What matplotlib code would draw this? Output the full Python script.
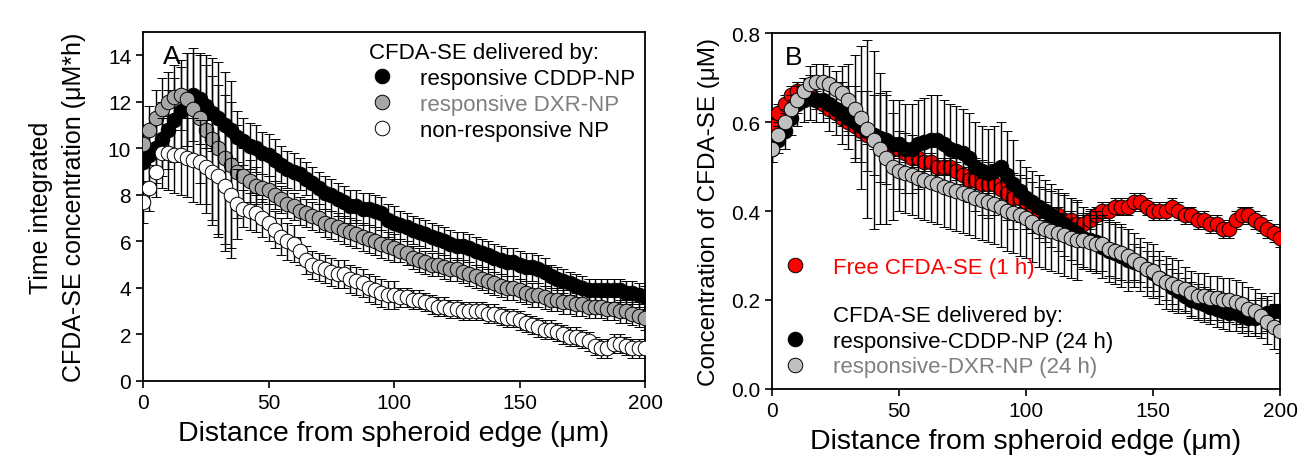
import numpy as np
import matplotlib
matplotlib.use("Agg")
import matplotlib.pyplot as plt
from matplotlib.lines import Line2D

plt.rcParams['font.family'] = ['Liberation Sans', 'DejaVu Sans']

# distance grid (um), shared by all series
dist = np.arange(0, 202.5, 2.5)

# ---- panel A: time integrated concentration (uM*h)
a_cddp = [9.4, 9.7, 10.0, 10.4, 10.8, 11.2, 11.6, 12.1, 12.3, 12.1, 11.8, 11.5, 11.3, 11.0, 10.8, 10.5,
          10.3, 10.1, 10.0, 9.8, 9.7, 9.5, 9.3, 9.1, 9.0, 8.9, 8.7, 8.5, 8.3, 8.1, 8.0, 7.8,
          7.7, 7.5, 7.5, 7.4, 7.4, 7.3, 7.2, 6.9, 6.8, 6.7, 6.6, 6.5, 6.4, 6.3, 6.2, 6.1,
          6.0, 5.9, 5.8, 5.8, 5.7, 5.6, 5.5, 5.4, 5.3, 5.2, 5.1, 5.1, 5.0, 4.9, 4.9, 4.8,
          4.7, 4.5, 4.4, 4.3, 4.2, 4.1, 4.0, 3.9, 3.9, 3.9, 3.9, 3.9, 3.9, 3.8, 3.8, 3.7, 3.6]
a_cddp_err = [1.2, 1.3, 1.5, 1.6, 1.7, 1.8, 1.9, 2.0, 2.0, 1.9, 1.8, 1.6, 1.4, 1.3, 1.2, 1.1,
              1.0, 1.0, 1.0, 0.9, 0.9, 0.9, 0.8, 0.8, 0.8] + [0.7] * 16 + [0.6] * 24 + [0.5] * 16

a_dxr = [10.2, 10.8, 11.3, 11.7, 12.0, 12.2, 12.3, 12.1, 11.7, 11.3, 10.8, 10.4, 10.0, 9.6, 9.3, 9.0,
         8.8, 8.6, 8.4, 8.3, 8.2, 8.0, 7.8, 7.6, 7.5, 7.3, 7.2, 7.1, 7.0, 6.8, 6.7, 6.6,
         6.5, 6.4, 6.3, 6.2, 6.1, 6.0, 5.9, 5.8, 5.7, 5.6, 5.5, 5.3, 5.2, 5.1, 5.0, 5.0,
         4.9, 4.8, 4.8, 4.7, 4.6, 4.5, 4.4, 4.3, 4.2, 4.1, 4.0, 4.0, 3.9, 3.8, 3.7, 3.7,
         3.6, 3.5, 3.5, 3.4, 3.4, 3.3, 3.3, 3.2, 3.2, 3.2, 3.1, 3.1, 3.0, 3.0, 2.9, 2.8, 2.7]
a_dxr_err = [0.8, 1.0, 1.2, 1.3, 1.3, 1.4, 1.5, 2.0, 2.4, 2.8, 3.2, 3.5, 3.7, 3.7, 3.6, 2.0,
             1.2, 0.9, 0.8] + [0.6] * 22 + [0.5] * 40

a_nonresp = [7.7, 8.3, 9.0, 9.8, 9.8, 9.7, 9.7, 9.6, 9.5, 9.4, 9.2, 9.0, 8.8, 8.4, 8.0, 7.6,
             7.4, 7.3, 7.2, 7.0, 6.8, 6.5, 6.2, 6.0, 5.9, 5.6, 5.2, 5.0, 4.9, 4.8, 4.7, 4.6,
             4.6, 4.4, 4.3, 4.2, 4.0, 3.9, 3.8, 3.7, 3.7, 3.6, 3.6, 3.5, 3.5, 3.4, 3.3, 3.2,
             3.2, 3.1, 3.1, 3.0, 3.0, 3.0, 3.0, 2.9, 2.9, 2.8, 2.7, 2.7, 2.6, 2.5, 2.4, 2.3,
             2.2, 2.2, 2.1, 2.0, 1.9, 1.9, 1.8, 1.7, 1.5, 1.4, 1.4, 1.6, 1.6, 1.5, 1.4, 1.4, 1.4]
a_nonresp_err = [0.9, 1.0, 1.1, 1.5, 1.6, 1.6, 1.7, 1.7, 1.8, 1.8, 2.0, 2.3, 2.6, 2.8, 2.7, 1.5] \
    + [0.8] * 9 + [0.6] * 16 + [0.4] * 40

# ---- panel B: concentration of CFDA-SE (uM)
b_free = [0.59, 0.62, 0.64, 0.66, 0.67, 0.67, 0.66, 0.65, 0.64, 0.63, 0.62, 0.61, 0.60, 0.59, 0.58, 0.57,
          0.56, 0.55, 0.55, 0.54, 0.54, 0.53, 0.52, 0.52, 0.51, 0.51, 0.50, 0.50, 0.50, 0.49, 0.48, 0.47,
          0.47, 0.46, 0.46, 0.46, 0.45, 0.44, 0.43, 0.43, 0.42, 0.41, 0.40, 0.40, 0.39, 0.39, 0.38, 0.38,
          0.37, 0.37, 0.38, 0.39, 0.40, 0.40, 0.41, 0.41, 0.41, 0.42, 0.42, 0.41, 0.40, 0.40, 0.40, 0.41,
          0.40, 0.39, 0.39, 0.38, 0.38, 0.37, 0.37, 0.36, 0.36, 0.38, 0.39, 0.39, 0.38, 0.37, 0.36, 0.35, 0.34]
b_free_err = [0.02] * 81

b_cddp = [0.54, 0.56, 0.58, 0.61, 0.64, 0.65, 0.655, 0.65, 0.65, 0.64, 0.63, 0.62, 0.61, 0.60, 0.59, 0.58,
          0.57, 0.565, 0.56, 0.55, 0.55, 0.54, 0.54, 0.55, 0.555, 0.56, 0.56, 0.55, 0.54, 0.535, 0.53, 0.52,
          0.50, 0.49, 0.485, 0.49, 0.50, 0.48, 0.46, 0.445, 0.43, 0.42, 0.41, 0.40, 0.39, 0.38, 0.37, 0.36,
          0.35, 0.34, 0.335, 0.33, 0.32, 0.31, 0.305, 0.30, 0.29, 0.285, 0.28, 0.27, 0.26, 0.25, 0.24, 0.23,
          0.22, 0.21, 0.20, 0.195, 0.19, 0.185, 0.18, 0.175, 0.17, 0.17, 0.165, 0.16, 0.16, 0.165, 0.17, 0.175, 0.175]
b_cddp_err = [0.03, 0.03, 0.04, 0.04, 0.05, 0.05, 0.05, 0.05, 0.05, 0.06, 0.06, 0.07, 0.07,
              0.08, 0.08, 0.09, 0.09, 0.10, 0.10, 0.10] + [0.10] * 19 + [0.07] * 18 + [0.04] * 24

b_dxr = [0.54, 0.57, 0.60, 0.63, 0.65, 0.67, 0.685, 0.69, 0.69, 0.685, 0.675, 0.665, 0.65, 0.63, 0.61, 0.585,
         0.56, 0.54, 0.52, 0.50, 0.49, 0.485, 0.48, 0.475, 0.47, 0.465, 0.46, 0.455, 0.45, 0.445, 0.44, 0.435,
         0.43, 0.425, 0.42, 0.415, 0.41, 0.40, 0.395, 0.39, 0.385, 0.375, 0.365, 0.36, 0.355, 0.35, 0.345, 0.34,
         0.335, 0.335, 0.33, 0.325, 0.325, 0.315, 0.31, 0.305, 0.30, 0.29, 0.28, 0.27, 0.265, 0.25, 0.24, 0.235,
         0.23, 0.225, 0.215, 0.21, 0.21, 0.205, 0.205, 0.20, 0.20, 0.195, 0.19, 0.18, 0.175, 0.165, 0.15, 0.14, 0.13]
b_dxr_err = [0.03] * 6 + [0.04] * 5 + [0.06, 0.08, 0.12, 0.16, 0.20, 0.20, 0.17, 0.15, 0.12] \
    + [0.09] * 29 + [0.06] * 16 + [0.05] * 16

fig = plt.figure(figsize=(13.11, 4.77), dpi=100)
ax_a = fig.add_axes([0.1091, 0.1992, 0.3829, 0.7317])
ax_b = fig.add_axes([0.5889, 0.1824, 0.3875, 0.7463])

msize = 10.5
mk = dict(marker='o', markersize=msize, markeredgecolor='black', markeredgewidth=0.7,
          linestyle='none', ecolor='black', elinewidth=1.0, capsize=3.5, capthick=1.0)

ax_a.errorbar(dist, a_cddp, yerr=a_cddp_err, markerfacecolor='black', zorder=3, **mk)
ax_a.errorbar(dist, a_dxr, yerr=a_dxr_err, markerfacecolor='#a6a6a6', zorder=4, **mk)
ax_a.errorbar(dist, a_nonresp, yerr=a_nonresp_err, markerfacecolor='white', zorder=5, **mk)

ax_b.errorbar(dist, b_free, yerr=b_free_err, markerfacecolor='#ff0000', zorder=3, **mk)
ax_b.errorbar(dist, b_cddp, yerr=b_cddp_err, markerfacecolor='black', zorder=4, **mk)
ax_b.errorbar(dist, b_dxr, yerr=b_dxr_err, markerfacecolor='#c0c0c0', zorder=5, **mk)

for ax in (ax_a, ax_b):
    ax.set_xlim(0, 200)
    ax.set_xticks([0, 50, 100, 150, 200])
    ax.tick_params(direction='out', length=5, width=1.2, labelsize=15, top=False, right=False)
    for s in ax.spines.values():
        s.set_linewidth(1.3)
    ax.set_xlabel('Distance from spheroid edge (\u03bcm)', fontsize=20.5, labelpad=6)

ax_a.set_ylim(0, 15)
ax_a.set_yticks(range(0, 15, 2))
ax_a.set_ylabel('Time integrated\nCFDA-SE concentration (\u03bcM*h)', fontsize=18,
                labelpad=16, linespacing=1.45)
ax_a.text(0.04, 0.965, 'A', transform=ax_a.transAxes, fontsize=19, va='top')

ax_b.set_ylim(0, 0.8)
ax_b.set_yticks([0, 0.2, 0.4, 0.6, 0.8])
ax_b.set_yticklabels(['0.0', '0.2', '0.4', '0.6', '0.8'])
ax_b.set_ylabel('Concentration of CFDA-SE (\u03bcM)', fontsize=17.5, labelpad=8)
ax_b.text(0.025, 0.965, 'B', transform=ax_b.transAxes, fontsize=19, va='top')


def dot(face):
    return Line2D([], [], marker='o', linestyle='none', markersize=msize,
                  markerfacecolor=face, markeredgecolor='black', markeredgewidth=0.7)


blank = Line2D([], [], linestyle='none')

leg_a = ax_a.legend([dot('black'), dot('#a6a6a6'), dot('white')],
                    ['responsive CDDP-NP', 'responsive DXR-NP', 'non-responsive NP'],
                    title='CFDA-SE delivered by:', loc='upper right', bbox_to_anchor=(1.0, 1.0),
                    frameon=False, fontsize=16, title_fontsize=16, handlelength=1.2,
                    handletextpad=1.1, labelspacing=0.22, alignment='left',
                    borderaxespad=0.15, borderpad=0.3)
leg_a.get_texts()[1].set_color('#7f7f7f')

leg_free = ax_b.legend([dot('#ff0000')], ['Free CFDA-SE (1 h)'], loc='lower left',
                       bbox_to_anchor=(0.0, 0.30), frameon=False, fontsize=16,
                       handlelength=1.68, handletextpad=0.87, borderaxespad=0.0, borderpad=0.2)
leg_free.get_texts()[0].set_color('#ff0000')
ax_b.add_artist(leg_free)

leg_b = ax_b.legend([blank, dot('black'), dot('#c0c0c0')],
                    ['CFDA-SE delivered by:', 'responsive-CDDP-NP (24 h)', 'responsive-DXR-NP (24 h)'],
                    loc='lower left', bbox_to_anchor=(0.0, 0.02), frameon=False, fontsize=16,
                    handlelength=1.68, handletextpad=0.87, labelspacing=0.22,
                    borderaxespad=0.0, borderpad=0.2)
leg_b.get_texts()[2].set_color('#7f7f7f')

fig.savefig('out.png', dpi=100)
